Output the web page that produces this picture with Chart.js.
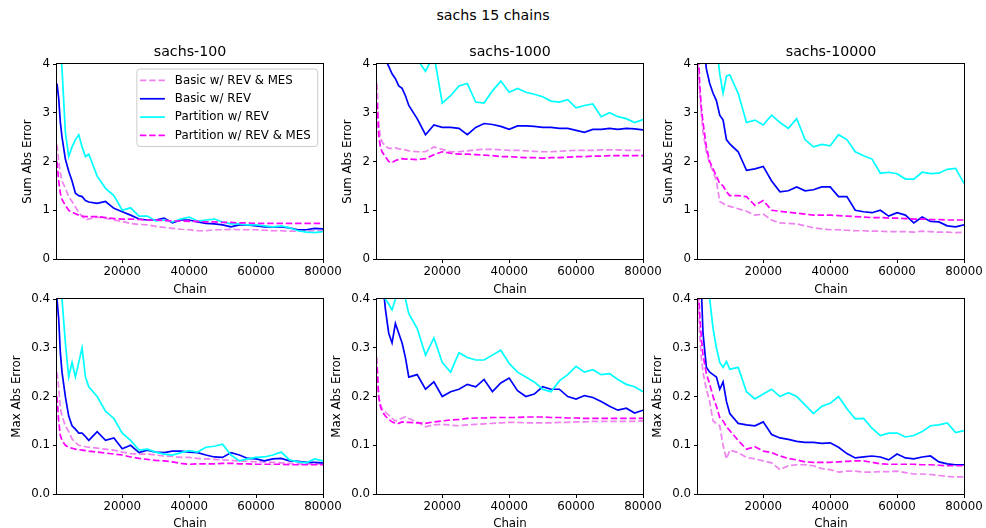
<!DOCTYPE html>
<html>
<head>
<meta charset="utf-8">
<script src="https://cdn.jsdelivr.net/npm/chart.js@4.4.0/dist/chart.umd.min.js"></script>
<style>
  html, body { margin: 0; padding: 0; background: #fff; overflow: hidden; }
  #page { position: relative; width: 986px; height: 528px; }
  canvas { position: absolute; }
  #suptitle { position: absolute; left: 0; top: 7px; width: 986px; text-align: center;
              font: 14.2px 'DejaVu Sans'; line-height: 17px; color: #000; }
</style>
</head>
<body>
<div id="page">
  <div id="suptitle">sachs 15 chains</div>
  <canvas id="c0"></canvas>
  <canvas id="c1"></canvas>
  <canvas id="c2"></canvas>
  <canvas id="c3"></canvas>
  <canvas id="c4"></canvas>
  <canvas id="c5"></canvas>
</div>
<script>
const chains = [500, 1000, 1500, 2000, 3000, 4000, 5000, 6000, 7000, 8000, 9000, 10000,
  12500, 15000, 17500, 20000, 22500, 25000, 27500, 30000, 32500, 35000,
  37500, 40000, 42500, 45000, 47500, 50000, 52500, 55000, 57500, 60000,
  62500, 65000, 67500, 70000, 72500, 75000, 77500, 80000];

const seriesLabels = ['Basic w/ REV & MES', 'Basic w/ REV', 'Partition w/ REV', 'Partition w/ REV & MES'];
const panelTitles = ['sachs-100', 'sachs-1000', 'sachs-10000'];
const chainTicks = [20000, 40000, 60000, 80000];
const sumTicks = [0, 1, 2, 3, 4];
const maxTicks = [0, 0.1, 0.2, 0.3, 0.4];

// sachs-100, sum abs error
const sum100BasicMes = [2.35, 2.0, 1.76, 1.6, 1.45, 1.28, 1.18, 1.07, 0.95, 0.88, 0.8, 0.82,
  0.86, 0.84, 0.8, 0.77, 0.73, 0.71, 0.7, 0.67, 0.65, 0.63,
  0.61, 0.6, 0.58, 0.58, 0.6, 0.6, 0.61, 0.6, 0.6, 0.6,
  0.59, 0.58, 0.58, 0.57, 0.57, 0.57, 0.58, 0.58];
const sum100Basic = [3.6, 3.3, 2.8, 2.5, 2.05, 1.8, 1.6, 1.35, 1.3, 1.28, 1.2, 1.17,
  1.14, 1.18, 1.04, 0.97, 0.9, 0.82, 0.8, 0.8, 0.84, 0.74,
  0.8, 0.8, 0.76, 0.73, 0.72, 0.7, 0.66, 0.7, 0.7, 0.68,
  0.66, 0.66, 0.66, 0.64, 0.6, 0.6, 0.63, 0.62];
const sum100Part = [6, 5, 4.3, 3.9, 2.6, 2.1, 2.3, 2.45, 2.55, 2.3, 2.1, 2.15,
  1.7, 1.45, 1.3, 1.0, 1.05, 0.88, 0.88, 0.78, 0.8, 0.76,
  0.82, 0.86, 0.78, 0.8, 0.82, 0.76, 0.72, 0.72, 0.7, 0.7,
  0.68, 0.66, 0.68, 0.64, 0.58, 0.55, 0.54, 0.56];
const sum100PartMes = [2.0, 1.6, 1.35, 1.22, 1.1, 1.0, 0.96, 0.93, 0.9, 0.88, 0.87, 0.87,
  0.87, 0.85, 0.83, 0.82, 0.82, 0.81, 0.8, 0.8, 0.79, 0.78,
  0.78, 0.77, 0.77, 0.76, 0.76, 0.75, 0.75, 0.74, 0.74, 0.73,
  0.73, 0.73, 0.73, 0.73, 0.73, 0.73, 0.73, 0.73];

// sachs-1000, sum abs error
const sum1000BasicMes = [3.6, 2.8, 2.5, 2.4, 2.32, 2.27, 2.27, 2.28, 2.26, 2.25, 2.24, 2.22,
  2.2, 2.2, 2.3, 2.25, 2.2, 2.2, 2.22, 2.24, 2.25, 2.25,
  2.24, 2.23, 2.23, 2.22, 2.21, 2.2, 2.2, 2.21, 2.22, 2.23,
  2.23, 2.23, 2.24, 2.24, 2.24, 2.23, 2.23, 2.23];
const sum1000Basic = [6, 5.5, 5, 4.6, 4.1, 3.95, 3.8, 3.7, 3.55, 3.5, 3.35, 3.15,
  2.88, 2.55, 2.75, 2.7, 2.7, 2.68, 2.55, 2.7, 2.78, 2.76,
  2.72, 2.66, 2.73, 2.73, 2.72, 2.7, 2.7, 2.68, 2.68, 2.64,
  2.6, 2.66, 2.66, 2.68, 2.66, 2.68, 2.67, 2.65];
const sum1000Part = [5.5, 5.3, 5.2, 5.0, 4.9, 4.8, 4.7, 4.6, 4.5, 4.4, 4.3, 4.2,
  4.1, 3.85, 4.2, 3.2, 3.35, 3.55, 3.6, 3.22, 3.2, 3.45,
  3.65, 3.42, 3.5, 3.42, 3.38, 3.33, 3.24, 3.22, 3.27, 3.1,
  3.15, 3.18, 2.92, 3.0, 2.92, 2.88, 2.8, 2.86];
const sum1000PartMes = [3.2, 2.55, 2.3, 2.2, 2.1, 2.0, 1.98, 2.02, 2.04, 2.06, 2.05, 2.05,
  2.04, 2.06, 2.14, 2.2, 2.17, 2.15, 2.15, 2.14, 2.13, 2.12,
  2.1, 2.1, 2.09, 2.08, 2.08, 2.07, 2.08, 2.08, 2.09, 2.1,
  2.1, 2.11, 2.11, 2.12, 2.12, 2.12, 2.12, 2.12];

// sachs-10000, sum abs error
const sum10000BasicMes = [4.0, 3.4, 3.0, 2.6, 2.2, 1.95, 1.8, 1.6, 1.18, 1.14, 1.1, 1.08,
  1.03, 0.98, 0.9, 0.92, 0.8, 0.74, 0.73, 0.72, 0.68, 0.64,
  0.62, 0.6, 0.6, 0.59, 0.58, 0.58, 0.57, 0.57, 0.56, 0.56,
  0.56, 0.55, 0.57, 0.56, 0.55, 0.55, 0.54, 0.55];
const sum10000Basic = [6.5, 5.8, 5.2, 4.6, 3.9, 3.6, 3.4, 3.25, 2.95, 2.85, 2.45, 2.36,
  2.2, 1.82, 1.85, 1.9, 1.6, 1.38, 1.4, 1.48, 1.4, 1.42,
  1.48, 1.48, 1.28, 1.28, 1.0, 0.97, 0.95, 1.0, 0.88, 0.95,
  0.9, 0.74, 0.86, 0.77, 0.76, 0.68, 0.66, 0.7];
const sum10000Part = [7, 6.5, 6, 5.7, 5.2, 4.9, 4.6, 4.4, 3.8, 3.4, 3.75, 3.78,
  3.4, 2.8, 2.85, 2.75, 2.95, 2.8, 2.68, 2.88, 2.45, 2.3,
  2.35, 2.32, 2.55, 2.45, 2.2, 2.12, 2.05, 1.76, 1.78, 1.75,
  1.64, 1.64, 1.78, 1.75, 1.76, 1.84, 1.86, 1.55];
const sum10000PartMes = [4.5, 3.6, 3.1, 2.8, 2.3, 2.0, 1.85, 1.7, 1.55, 1.5, 1.38, 1.3,
  1.3, 1.28, 1.1, 1.2, 1.0, 0.98, 0.96, 0.94, 0.92, 0.9,
  0.9, 0.9, 0.89, 0.88, 0.87, 0.86, 0.85, 0.85, 0.84, 0.84,
  0.83, 0.82, 0.82, 0.81, 0.81, 0.8, 0.8, 0.8];

// sachs-100, max abs error
const max100BasicMes = [0.25, 0.22, 0.175, 0.16, 0.14, 0.128, 0.113, 0.106, 0.1, 0.099, 0.097, 0.096,
  0.094, 0.092, 0.09, 0.086, 0.083, 0.082, 0.082, 0.08, 0.078, 0.077,
  0.075, 0.075, 0.073, 0.072, 0.071, 0.07, 0.069, 0.068, 0.067, 0.066,
  0.066, 0.065, 0.064, 0.063, 0.062, 0.062, 0.062, 0.062];
const max100Basic = [0.40, 0.36, 0.29, 0.25, 0.2, 0.16, 0.14, 0.133, 0.125, 0.125, 0.118, 0.11,
  0.128, 0.11, 0.115, 0.093, 0.1, 0.085, 0.09, 0.086, 0.085, 0.088,
  0.088, 0.086, 0.085, 0.08, 0.076, 0.075, 0.085, 0.08, 0.073, 0.072,
  0.068, 0.072, 0.073, 0.068, 0.067, 0.065, 0.065, 0.064];
const max100Part = [0.55, 0.48, 0.44, 0.40, 0.31, 0.24, 0.27, 0.24, 0.27, 0.30, 0.24, 0.22,
  0.2, 0.17, 0.155, 0.125, 0.11, 0.09, 0.092, 0.086, 0.082, 0.08,
  0.085, 0.089, 0.086, 0.096, 0.098, 0.102, 0.08, 0.068, 0.072, 0.075,
  0.076, 0.08, 0.086, 0.07, 0.066, 0.064, 0.072, 0.068];
const max100PartMes = [0.2, 0.15, 0.12, 0.11, 0.1, 0.096, 0.094, 0.092, 0.091, 0.09, 0.089, 0.088,
  0.086, 0.084, 0.082, 0.08, 0.076, 0.073, 0.071, 0.069, 0.068, 0.066,
  0.063, 0.061, 0.062, 0.062, 0.062, 0.063, 0.063, 0.062, 0.062, 0.061,
  0.061, 0.061, 0.061, 0.06, 0.06, 0.06, 0.06, 0.06];

// sachs-1000, max abs error
const max1000BasicMes = [0.28, 0.2, 0.185, 0.175, 0.168, 0.162, 0.155, 0.15, 0.152, 0.156, 0.158, 0.155,
  0.148, 0.138, 0.142, 0.143, 0.141, 0.14, 0.142, 0.143, 0.144, 0.145,
  0.146, 0.147, 0.147, 0.146, 0.146, 0.146, 0.146, 0.147, 0.147, 0.148,
  0.148, 0.149, 0.149, 0.149, 0.149, 0.149, 0.149, 0.15];
const max1000Basic = [0.6, 0.55, 0.5, 0.45, 0.38, 0.33, 0.31, 0.35, 0.33, 0.31, 0.28, 0.24,
  0.245, 0.215, 0.23, 0.2, 0.21, 0.215, 0.225, 0.22, 0.235, 0.21,
  0.228, 0.238, 0.212, 0.2, 0.205, 0.22, 0.215, 0.215, 0.2, 0.195,
  0.202, 0.198, 0.19, 0.18, 0.172, 0.176, 0.166, 0.172];
const max1000Part = [0.6, 0.55, 0.5, 0.45, 0.4, 0.39, 0.378, 0.4, 0.43, 0.42, 0.4, 0.37,
  0.34, 0.285, 0.32, 0.27, 0.25, 0.29, 0.28, 0.275, 0.275, 0.285,
  0.295, 0.268, 0.25, 0.24, 0.23, 0.215, 0.21, 0.232, 0.245, 0.262,
  0.25, 0.255, 0.245, 0.247, 0.235, 0.225, 0.22, 0.21];
const max1000PartMes = [0.26, 0.2, 0.18, 0.17, 0.16, 0.153, 0.148, 0.145, 0.145, 0.148, 0.147, 0.147,
  0.146, 0.145, 0.148, 0.15, 0.152, 0.153, 0.155, 0.156, 0.156, 0.157,
  0.157, 0.157, 0.157, 0.158, 0.158, 0.158, 0.157, 0.157, 0.156, 0.156,
  0.155, 0.155, 0.155, 0.155, 0.155, 0.155, 0.155, 0.155];

// sachs-10000, max abs error
const max10000BasicMes = [0.42, 0.33, 0.28, 0.25, 0.215, 0.19, 0.15, 0.145, 0.14, 0.1, 0.072, 0.09,
  0.085, 0.075, 0.072, 0.068, 0.064, 0.05, 0.058, 0.06, 0.06, 0.058,
  0.052, 0.05, 0.045, 0.047, 0.047, 0.045, 0.045, 0.046, 0.046, 0.047,
  0.044, 0.041, 0.041, 0.04, 0.038, 0.036, 0.035, 0.035];
const max10000Basic = [0.6, 0.5, 0.42, 0.33, 0.26, 0.25, 0.245, 0.24, 0.215, 0.23, 0.19, 0.165,
  0.145, 0.142, 0.14, 0.148, 0.122, 0.115, 0.112, 0.108, 0.106, 0.106,
  0.104, 0.105, 0.096, 0.083, 0.074, 0.076, 0.078, 0.076, 0.07, 0.082,
  0.074, 0.072, 0.076, 0.078, 0.066, 0.062, 0.06, 0.06];
const max10000Part = [0.7, 0.65, 0.6, 0.55, 0.47, 0.4, 0.34, 0.3, 0.27, 0.26, 0.272, 0.256,
  0.26, 0.21, 0.195, 0.205, 0.215, 0.2, 0.208, 0.2, 0.183, 0.165,
  0.18, 0.186, 0.2, 0.175, 0.154, 0.155, 0.135, 0.12, 0.125, 0.125,
  0.117, 0.12, 0.128, 0.14, 0.142, 0.146, 0.126, 0.13];
const max10000PartMes = [0.45, 0.37, 0.32, 0.285, 0.247, 0.225, 0.2, 0.18, 0.157, 0.15, 0.138, 0.13,
  0.11, 0.092, 0.097, 0.088, 0.085, 0.078, 0.073, 0.07, 0.066, 0.065,
  0.065, 0.065, 0.066, 0.067, 0.068, 0.068, 0.065, 0.062, 0.061, 0.061,
  0.061, 0.061, 0.06, 0.06, 0.059, 0.058, 0.058, 0.058];

const seriesColors = ['#ee82ee', '#0000ff', '#00ffff', '#ff00ff'];
const seriesDashed = [true, false, false, true];
const FONT = 'DejaVu Sans';

const panels = [
  { id: 'c0', left: 57,  top: 64,  row: 0, col: 0, series: [sum100BasicMes, sum100Basic, sum100Part, sum100PartMes], legend: true },
  { id: 'c1', left: 377, top: 64,  row: 0, col: 1, series: [sum1000BasicMes, sum1000Basic, sum1000Part, sum1000PartMes] },
  { id: 'c2', left: 698, top: 64,  row: 0, col: 2, series: [sum10000BasicMes, sum10000Basic, sum10000Part, sum10000PartMes] },
  { id: 'c3', left: 57,  top: 299, row: 1, col: 0, series: [max100BasicMes, max100Basic, max100Part, max100PartMes] },
  { id: 'c4', left: 377, top: 299, row: 1, col: 1, series: [max1000BasicMes, max1000Basic, max1000Part, max1000PartMes] },
  { id: 'c5', left: 698, top: 299, row: 1, col: 2, series: [max10000BasicMes, max10000Basic, max10000Part, max10000PartMes] }
];

// black box round the plot area, like matplotlib spines
const framePlugin = {
  id: 'frame',
  afterDatasetsDraw(chart) {
    const { ctx, chartArea: a } = chart;
    ctx.save();
    ctx.strokeStyle = '#000';
    ctx.lineWidth = 1;
    ctx.strokeRect(Math.round(a.left) - 0.5, Math.round(a.top) - 0.5,
                   Math.round(a.right) - Math.round(a.left) + 1, Math.round(a.bottom) - Math.round(a.top) + 1);
    ctx.restore();
  }
};

// legend box in the upper right of the plot area
const boxLegend = {
  id: 'boxLegend',
  afterDraw(chart) {
    const { ctx, chartArea: a } = chart;
    const ds = chart.data.datasets;
    ctx.save();
    ctx.font = '11.8px ' + FONT;
    let tw = 0;
    ds.forEach(d => { tw = Math.max(tw, ctx.measureText(d.label).width); });
    const w = 38 + tw + 7, rowH = 18.33, h = 4.2 * 2 + rowH * ds.length - 4.3;
    const x0 = a.right - 5.3 - w, y0 = a.top + 5;
    ctx.beginPath();
    ctx.roundRect(x0, y0, w, h, 3);
    ctx.fillStyle = 'rgba(255,255,255,0.8)';
    ctx.fill();
    ctx.strokeStyle = '#cccccc';
    ctx.lineWidth = 1;
    ctx.stroke();
    ds.forEach((d, i) => {
      const cy = y0 + 11.4 + i * rowH;
      ctx.beginPath();
      ctx.setLineDash(d.borderDash || []);
      ctx.strokeStyle = d.borderColor;
      ctx.lineWidth = d.borderWidth;
      ctx.moveTo(x0 + 3, cy);
      ctx.lineTo(x0 + 28, cy);
      ctx.stroke();
      ctx.setLineDash([]);
      ctx.fillStyle = '#000';
      ctx.textBaseline = 'middle';
      ctx.fillText(d.label, x0 + 38, cy);
    });
    ctx.restore();
  }
};

function makeChart(p) {
  const top = p.row === 0;
  const yw = 57, padR = 24, headH = top ? 20 : 10, footH = top ? 40 : 38;
  const cv = document.getElementById(p.id);
  cv.width = yw + 266 + padR;
  cv.height = headH + 195 + footH;
  cv.style.left = (p.left - yw) + 'px';
  cv.style.top = (p.top - headH) + 'px';
  const tickFont = { family: FONT, size: 11.8 };
  const yTicks = top ? sumTicks : maxTicks;

  const datasets = p.series.map((vals, i) => ({
    label: seriesLabels[i],
    data: vals.map((v, j) => ({ x: chains[j], y: v })),
    borderColor: seriesColors[i],
    borderWidth: 1.7,
    borderDash: seriesDashed[i] ? [6.5, 2.8] : [],
    pointRadius: 0,
    tension: 0,
    fill: false,
    order: 4 - i
  }));

  new Chart(cv, {
    type: 'line',
    data: { datasets },
    plugins: p.legend ? [framePlugin, boxLegend] : [framePlugin],
    options: {
      responsive: false,
      animation: false,
      devicePixelRatio: 1,
      layout: { padding: { left: 0, right: padR, top: top ? 0 : 10, bottom: 0 } },
      plugins: {
        legend: { display: false },
        tooltip: { enabled: false },
        title: {
          display: top,
          text: panelTitles[p.col],
          fullSize: false,
          color: '#000',
          font: { family: FONT, size: 14.2, weight: 'normal' },
          padding: { top: 0, bottom: 3 }
        }
      },
      scales: {
        x: {
          type: 'linear',
          min: 500,
          max: 80000,
          afterBuildTicks: s => { s.ticks = chainTicks.map(v => ({ value: v })); },
          afterFit: s => { s.height = footH; },
          grid: { drawOnChartArea: false, tickLength: 4, color: '#000' },
          border: { display: false },
          ticks: {
            color: '#000', font: tickFont, padding: 2, maxRotation: 0, autoSkip: false,
            callback: v => String(v)
          },
          title: { display: true, text: 'Chain', color: '#000', font: tickFont, padding: { top: 0, bottom: top ? 2 : 1 } }
        },
        y: {
          min: yTicks[0],
          max: yTicks[yTicks.length - 1],
          afterBuildTicks: s => { s.ticks = yTicks.map(v => ({ value: v })); },
          afterFit: s => { s.width = yw; },
          grid: { drawOnChartArea: false, tickLength: 4, color: '#000' },
          border: { display: false },
          ticks: {
            color: '#000', font: tickFont, padding: 3, autoSkip: false,
            callback: v => top ? String(v) : v.toFixed(1)
          },
          title: {
            display: true, text: top ? 'Sum Abs Error' : 'Max Abs Error', color: '#000', font: tickFont,
            padding: { top: top ? 20.9 : 9.4, bottom: 0 }
          }
        }
      }
    }
  });
}

panels.forEach(makeChart);
</script>
</body>
</html>
